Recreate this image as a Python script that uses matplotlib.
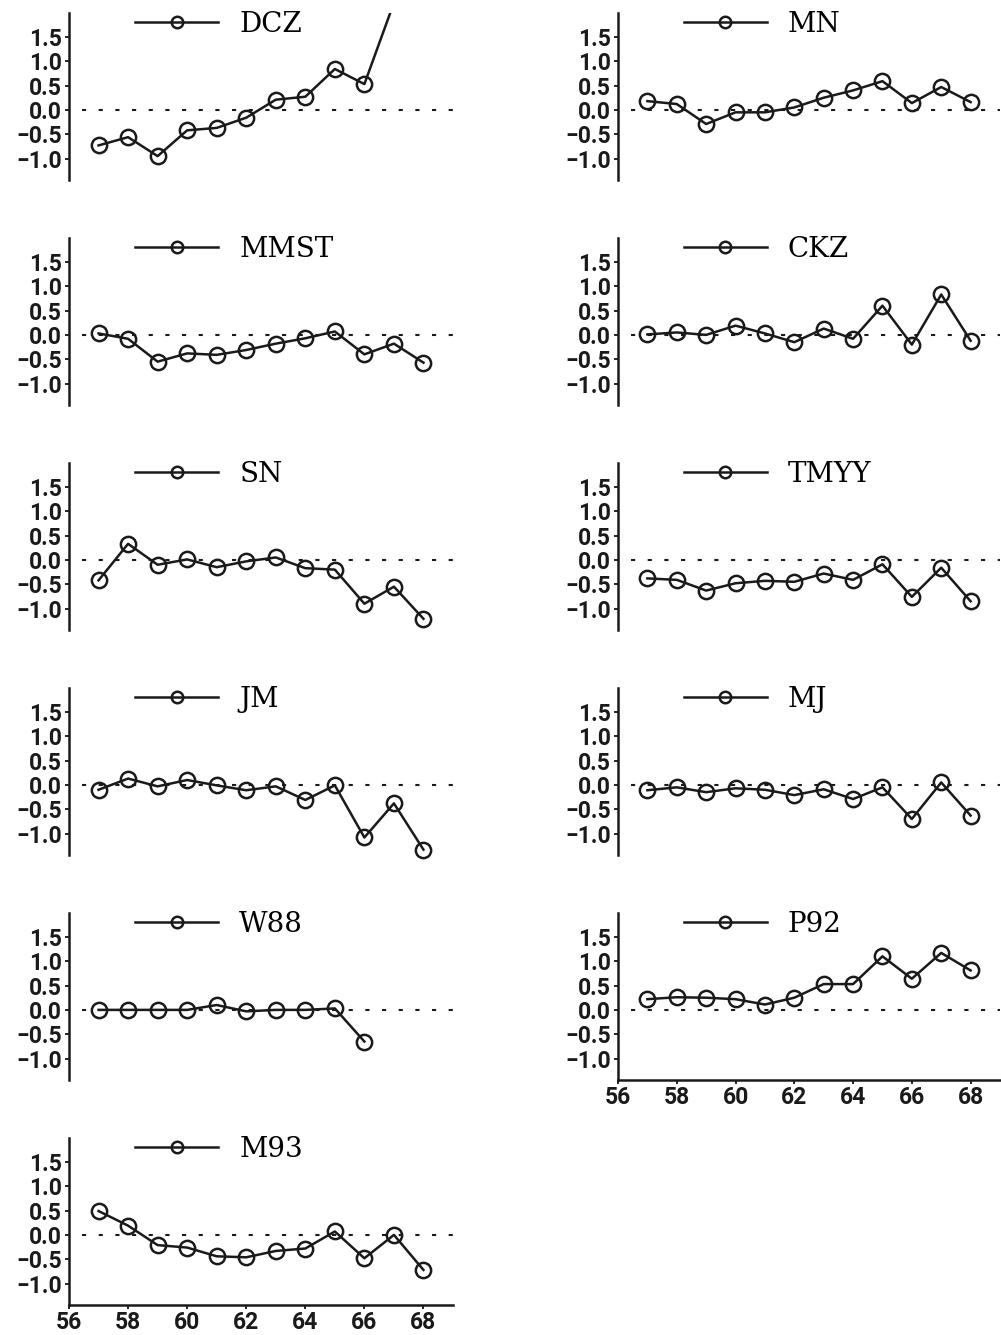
import numpy as np
import matplotlib
matplotlib.use("Agg")
import matplotlib.pyplot as plt

years = np.arange(57, 69)
nan = np.nan

# values (one list per panel)
dcz = [-0.73, -0.56, -0.95, -0.42, -0.37, -0.16, 0.21, 0.27, 0.84, 0.53, 2.2, nan]
mmst = [0.03, -0.08, -0.55, -0.38, -0.41, -0.31, -0.18, -0.07, 0.07, -0.40, -0.18, -0.57]
sn = [-0.42, 0.33, -0.10, 0.01, -0.15, -0.03, 0.05, -0.17, -0.20, -0.90, -0.55, -1.21]
jm = [-0.10, 0.13, -0.03, 0.10, -0.01, -0.11, -0.03, -0.31, -0.01, -1.08, -0.38, -1.33]
w88 = [0.0, 0.0, 0.0, 0.0, 0.10, -0.03, 0.0, 0.0, 0.03, -0.65, nan, nan]
m93 = [0.49, 0.19, -0.21, -0.26, -0.44, -0.46, -0.33, -0.28, 0.07, -0.48, 0.0, -0.72]

mn = [0.18, 0.12, -0.29, -0.05, -0.05, 0.05, 0.25, 0.40, 0.59, 0.14, 0.47, 0.16]
ckz = [0.01, 0.05, 0.0, 0.19, 0.03, -0.15, 0.13, -0.08, 0.60, -0.20, 0.83, -0.12]
tmyy = [-0.38, -0.41, -0.63, -0.48, -0.43, -0.45, -0.28, -0.41, -0.09, -0.76, -0.16, -0.85]
mj = [-0.11, -0.05, -0.15, -0.07, -0.10, -0.21, -0.09, -0.29, -0.05, -0.70, 0.05, -0.63]
p92 = [0.22, 0.26, 0.25, 0.22, 0.11, 0.25, 0.53, 0.53, 1.10, 0.64, 1.17, 0.81]

left_names = ["DCZ", "MMST", "SN", "JM", "W88", "M93"]
left_data = [dcz, mmst, sn, jm, w88, m93]
right_names = ["MN", "CKZ", "TMYY", "MJ", "P92"]
right_data = [mn, ckz, tmyy, mj, p92]

yticks = [-1.0, -0.5, 0.0, 0.5, 1.0, 1.5]
xticks = [56, 58, 60, 62, 64, 66, 68]

W, H = 1001, 1335
fig = plt.figure(figsize=(W / 100, H / 100), dpi=100)

col = "#1a1a1a"


def panel(x0, x1, row, name, vals, xaxis):
    top = 13 + 225 * row
    ax = fig.add_axes([x0 / W, 1 - (top + 167) / H, (x1 - x0) / W, 167 / H])
    ax.set_xlim(56, 69)
    ax.set_ylim(-1.44, 1.99)
    ax.hlines(0, 56.45, 69, colors=col, linestyles=(0, (2, 6)), lw=1.5)
    ax.plot(years, vals, "-o", color=col, lw=1.8, ms=11, mfc="none",
            mew=1.8, label=name, clip_on=(name == "DCZ"))
    for s in ["top", "right"]:
        ax.spines[s].set_visible(False)
    ax.spines["left"].set_linewidth(1.8)
    ax.spines["left"].set_color(col)
    ax.set_yticks(yticks)
    ax.set_yticklabels(["\u22121.0", "\u22120.5", "0.0", "0.5", "1.0", "1.5"])
    ax.tick_params(axis="y", length=3, width=1.2, pad=2)
    if xaxis:
        ax.spines["bottom"].set_linewidth(1.8)
        ax.spines["bottom"].set_color(col)
        ax.set_xticks(xticks)
        ax.tick_params(axis="x", length=3, width=1.2, pad=1)
    else:
        ax.spines["bottom"].set_visible(False)
        ax.set_xticks([])
    for lab in ax.get_xticklabels() + ax.get_yticklabels():
        lab.set_fontfamily("Roboto")
        lab.set_fontweight("bold")
        lab.set_fontsize(16.5)
        lab.set_color(col)
    ax.legend(loc="center left", bbox_to_anchor=(0.172, 0.93), frameon=False,
              borderpad=0, borderaxespad=0, handlelength=3.0,
              handletextpad=0.75, markerscale=0.75,
              prop={"family": "DejaVu Serif", "size": 20})
    return ax


for i, (n, d) in enumerate(zip(left_names, left_data)):
    panel(69, 453, i, n, d, n == "M93")
for i, (n, d) in enumerate(zip(right_names, right_data)):
    panel(618, 1000, i, n, d, n == "P92")

fig.savefig("out.png", dpi=100)
